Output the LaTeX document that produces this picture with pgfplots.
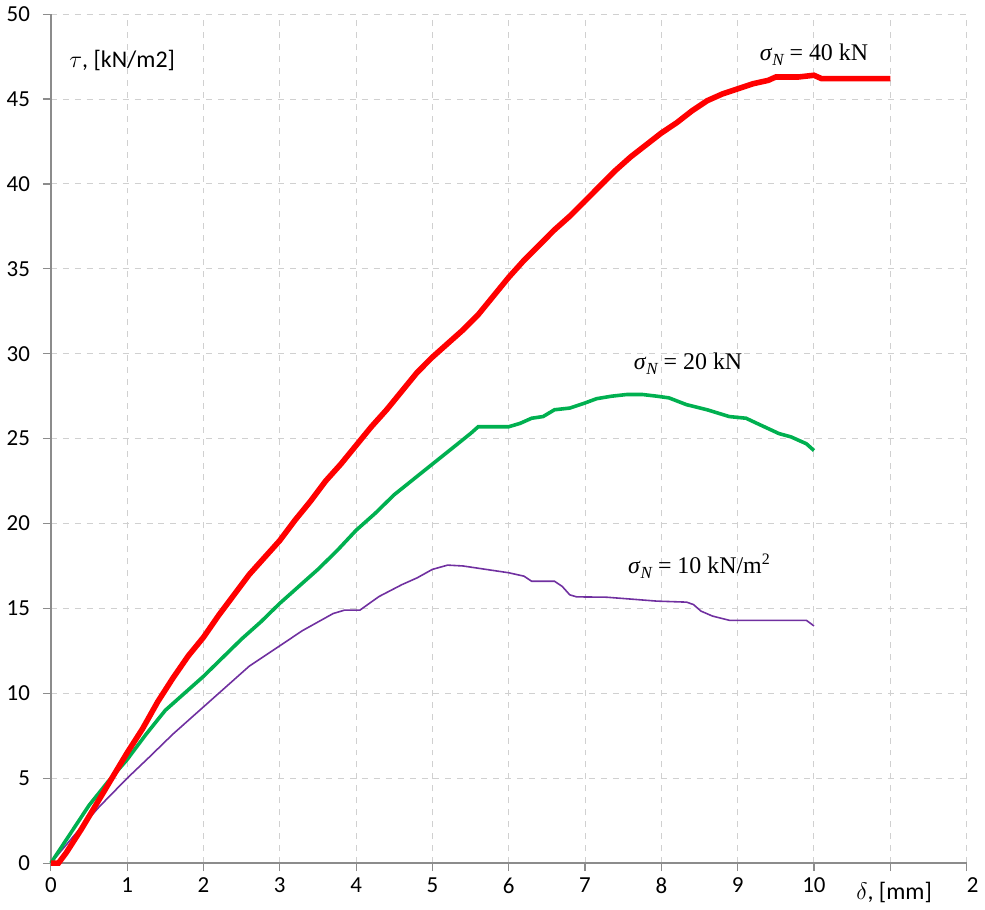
\documentclass[border=0pt]{standalone}
\usepackage{pgfplots}
\pgfplotsset{compat=1.18}
\usepackage{fontspec}
\setmainfont{Carlito}
\newfontfamily\tnr{Liberation Serif}

\definecolor{sigforty}{HTML}{FF0000}
\definecolor{sigtwenty}{HTML}{00B050}
\definecolor{sigten}{HTML}{7030A0}
\definecolor{axgray}{HTML}{8C8C8C}
\definecolor{gridgray}{HTML}{D0D0D0}

% shear stress tau [kN/m2] versus displacement delta [mm]
\pgfplotstableread{
x y
0.0 0.0
0.1 0.0
0.2 0.6
0.4 2.0
0.6 3.5
0.8 5.0
1.0 6.5
1.2 7.9
1.4 9.5
1.6 10.9
1.8 12.2
2.0 13.3
2.2 14.6
2.4 15.8
2.6 17.0
2.8 18.0
3.0 19.0
3.2 20.2
3.4 21.3
3.6 22.5
3.8 23.5
4.0 24.6
4.2 25.7
4.4 26.7
4.6 27.8
4.8 28.9
5.0 29.8
5.2 30.6
5.4 31.4
5.6 32.3
5.8 33.4
6.0 34.5
6.2 35.5
6.4 36.4
6.6 37.3
6.8 38.1
7.0 39.0
7.2 39.9
7.4 40.8
7.6 41.6
7.8 42.3
8.0 43.0
8.2 43.6
8.4 44.3
8.6 44.9
8.8 45.3
9.0 45.6
9.2 45.9
9.4 46.1
9.5 46.3
9.8 46.3
10.0 46.4
10.1 46.2
10.5 46.2
11.0 46.2
}\tabforty

\pgfplotstableread{
x y
0.0 0.0
0.25 1.7
0.5 3.4
0.75 4.8
1.0 6.1
1.25 7.6
1.5 9.0
1.75 10.0
2.0 11.0
2.25 12.1
2.5 13.2
2.75 14.2
3.0 15.3
3.25 16.3
3.5 17.3
3.75 18.4
4.0 19.6
4.25 20.6
4.5 21.7
4.75 22.6
5.0 23.5
5.25 24.4
5.5 25.3
5.6 25.7
6.0 25.7
6.15 25.9
6.3 26.2
6.45 26.3
6.6 26.7
6.8 26.8
7.0 27.1
7.15 27.35
7.35 27.5
7.55 27.6
7.75 27.6
7.94 27.5
8.1 27.4
8.33 27.0
8.6 26.7
8.89 26.3
9.11 26.2
9.3 25.8
9.54 25.3
9.7 25.1
9.9 24.7
10.0 24.3
}\tabtwenty

\pgfplotstableread{
x y
0.0 0.0
0.3 1.6
0.63 3.3
1.0 5.0
1.28 6.2
1.6 7.6
2.0 9.2
2.3 10.4
2.6 11.6
3.0 12.8
3.3 13.7
3.5 14.2
3.7 14.7
3.85 14.9
4.05 14.9
4.3 15.7
4.6 16.4
4.8 16.8
5.0 17.3
5.2 17.55
5.4 17.5
5.7 17.3
6.0 17.1
6.2 16.9
6.3 16.6
6.6 16.6
6.7 16.3
6.8 15.8
6.89 15.68
7.28 15.66
7.6 15.55
7.94 15.43
8.33 15.37
8.42 15.23
8.52 14.84
8.67 14.55
8.89 14.3
9.9 14.3
10.0 13.97
}\tabten

\begin{document}
\begin{tikzpicture}
\begin{axis}[
  width=459.5pt, height=426pt, scale only axis,
  xmin=0, xmax=12, ymin=0, ymax=50,
  xtick={0,1,2,3,4,5,6,7,8,9,10,11,12},
  xticklabels={0,1,2,3,4,5,6,7,8,9,10,{},{\hspace{6pt}2}},
  ytick={0,5,10,15,20,25,30,35,40,45,50},
  axis lines=left,
  axis line style={-, draw=axgray, line width=0.8pt},
  tick align=outside,
  major tick length=4pt,
  tick style={draw=axgray, line width=0.6pt},
  grid=major,
  major grid style={draw=gridgray, dashed, line width=0.5pt},
  ticklabel style={font=\fontsize{11.5}{13}\selectfont},
  yticklabel style={xshift=-3pt},
  /pgf/number format/assume math mode=true,
  clip=false,
]
\addplot[sigten, line width=0.8pt] table {\tabten};
\addplot[sigtwenty, line width=1.8pt] table {\tabtwenty};
\addplot[sigforty, line width=2.8pt] table {\tabforty};

\node[anchor=west, font=\fontsize{12}{14}\selectfont] at (axis cs:0.15,47.3) {$\tau$, [kN/m2]};
\node[font=\fontsize{12}{14}\selectfont] at (axis cs:11.05,-1.75) {$\delta$, [mm]};

\node[font=\tnr\fontsize{12}{14}\selectfont] at (axis cs:10.0,47.6) {\textit{σ}\raisebox{-0.45ex}{\fontsize{8.5}{9}\selectfont\itshape N}\ = 40 kN};
\node[font=\tnr\fontsize{12}{14}\selectfont] at (axis cs:8.35,29.4) {\textit{σ}\raisebox{-0.45ex}{\fontsize{8.5}{9}\selectfont\itshape N}\ = 20 kN};
\node[font=\tnr\fontsize{12}{14}\selectfont] at (axis cs:8.5,17.5) {\textit{σ}\raisebox{-0.45ex}{\fontsize{8.5}{9}\selectfont\itshape N}\ = 10 kN/m\textsuperscript{2}};
\end{axis}
\end{tikzpicture}
\end{document}
